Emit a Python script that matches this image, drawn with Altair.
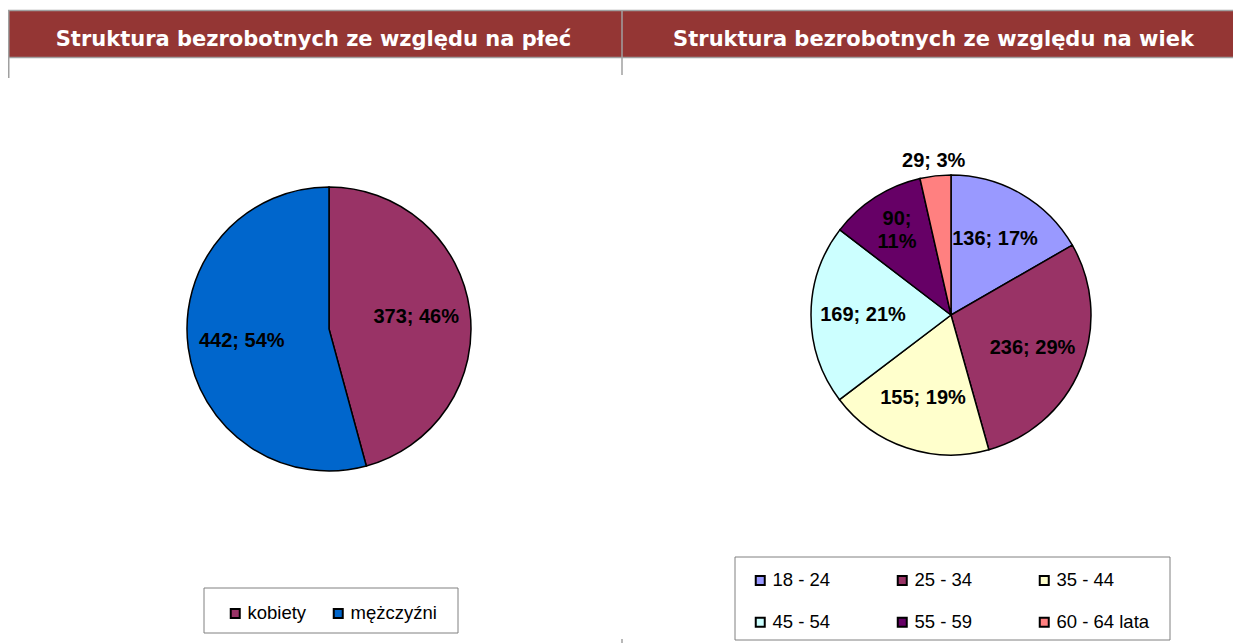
import altair as alt
import pandas as pd

# ---- data ----
titles = ["Struktura bezrobotnych ze względu na płeć",
          "Struktura bezrobotnych ze względu na wiek"]

gender_labels = ["kobiety", "mężczyźni"]
gender_values = [373, 442]
gender_pct = [46, 54]
gender_colors = ["#993366", "#0066CC"]

age_labels = ["18 - 24", "25 - 34", "35 - 44", "45 - 54", "55 - 59", "60 - 64 lata"]
age_values = [136, 236, 155, 169, 90, 29]
age_pct = [17, 29, 19, 21, 11, 3]
age_colors = ["#9999FF", "#993366", "#FFFFCC", "#CCFFFF", "#660066", "#FF8080"]

W, H = 1225, 635
HEADER = "#943634"
GRID = "#A0A0A0"

gdf = pd.DataFrame({
    "cat": gender_labels, "value": gender_values, "pct": gender_pct,
    "idx": list(range(len(gender_labels))),
})
gdf["label"] = [f"{v}; {p}%" for v, p in zip(gender_values, gender_pct)]

tot = sum(age_values)
adf = pd.DataFrame({
    "cat": age_labels, "value": age_values, "pct": age_pct,
    "idx": list(range(len(age_labels))),
})
lab = []
kind = []
for v, p in zip(age_values, age_pct):
    share = v / tot
    if share < 0.05:
        lab.append(f"{v}; {p}%"); kind.append("out")
    elif share < 0.12:
        lab.append([f"{v};", f"{p}%"]); kind.append("wrap")
    else:
        lab.append(f"{v}; {p}%"); kind.append("in")
adf["label"] = lab
adf["kind"] = kind

one = pd.DataFrame({"k": [0]})


def rect(x, x2, y, y2, **kw):
    return alt.Chart(one).mark_rect(**kw).encode(
        x=alt.value(x), x2=alt.value(x2), y=alt.value(y), y2=alt.value(y2))


def rule(x, x2, y, y2, **kw):
    return alt.Chart(one).mark_rule(**kw).encode(
        x=alt.value(x), x2=alt.value(x2), y=alt.value(y), y2=alt.value(y2))


def title(txt, x, y):
    return alt.Chart(pd.DataFrame({"t": [txt]})).mark_text(
        font="DejaVu Sans", fontSize=21, fontWeight="bold", color="white",
        align="center", baseline="middle").encode(
        text="t:N", x=alt.value(x), y=alt.value(y))


decor = alt.layer(
    rect(0, W, 3, 49, fill=HEADER),
    rule(0, W, 2.5, 2.5, stroke=GRID, strokeWidth=1.5),
    rule(0, W, 49.5, 49.5, stroke=GRID, strokeWidth=1.5),
    rule(614, 614, 2, 67, stroke=GRID, strokeWidth=1.5),
    rule(614, 614, 631, 635, stroke=GRID, strokeWidth=1.5),
    rule(0.75, 0.75, 2, 70, stroke=GRID, strokeWidth=1.5),
    rect(196, 450, 580, 625, fill="white", stroke="#808080", strokeWidth=1),
    rect(727, 1162, 549, 632, fill="white", stroke="#808080", strokeWidth=1),
    title(titles[0], 305.5, 32),
    title(titles[1], 925.5, 32),
)

legend_common = dict(
    orient="none", direction="horizontal", title=None, symbolType="square",
    symbolSize=81, symbolStrokeColor="black", symbolStrokeWidth=2,
    labelFont="Liberation Sans", labelFontSize=18.5, labelColor="black",
    labelOffset=3, padding=0, strokeColor="transparent",
)

LCX, LCY, LR = 321, 321, 142
RCX, RCY, RR = 943, 307, 140
LABEL_FONT = dict(font="Liberation Sans", fontSize=20, fontWeight="bold", color="black")

left_arc = alt.Chart(gdf).mark_arc(outerRadius=LR, stroke="black", strokeWidth=1.5).encode(
    theta=alt.Theta("value:Q", stack=True),
    order=alt.Order("idx:Q"),
    color=alt.Color("cat:N", scale=alt.Scale(domain=gender_labels, range=gender_colors),
                    legend=alt.Legend(legendX=218, legendY=596, columns=2,
                                      columnPadding=22, **legend_common)),
    x=alt.value(LCX), y=alt.value(LCY),
)
left_txt = alt.Chart(gdf).mark_text(radius=88, **LABEL_FONT).encode(
    theta=alt.Theta("value:Q", stack=True),
    order=alt.Order("idx:Q"),
    text="label:N",
    x=alt.value(LCX), y=alt.value(LCY),
)
left = alt.layer(left_arc, left_txt)

right_arc = alt.Chart(adf).mark_arc(outerRadius=RR, stroke="black", strokeWidth=1.5).encode(
    theta=alt.Theta("value:Q", stack=True),
    order=alt.Order("idx:Q"),
    color=alt.Color("cat:N", scale=alt.Scale(domain=age_labels, range=age_colors),
                    legend=alt.Legend(legendX=743, legendY=563, columns=3,
                                      columnPadding=62, rowPadding=23, **legend_common)),
    x=alt.value(RCX), y=alt.value(RCY),
)
# mid-angle of each slice, computed before any filtering
txt_base = alt.Chart(adf).transform_window(
    cum="sum(value)", sort=[alt.SortField("idx")], frame=[None, 0]
).transform_calculate(
    mid="datum.cum - datum.value / 2"
).encode(
    theta=alt.Theta("mid:Q", stack=None),
    text="label:N",
    x=alt.value(RCX), y=alt.value(RCY),
)
right_in = txt_base.mark_text(radius=88, **LABEL_FONT).transform_filter(
    alt.datum.kind == "in")
right_wrap = txt_base.mark_text(radius=100, dy=-11.5, lineHeight=23, **LABEL_FONT).transform_filter(
    alt.datum.kind == "wrap")
right_out = txt_base.mark_text(radius=155, **LABEL_FONT).transform_filter(
    alt.datum.kind == "out")
right = alt.layer(right_arc, right_in, right_wrap, right_out)

chart = alt.layer(decor, left, right).resolve_scale(
    theta="independent", color="independent"
).properties(
    width=W, height=H, padding=0,
    autosize=alt.AutoSizeParams(type="none"),
).configure_view(stroke=None)

chart.save("out.html", embed_options={"renderer": "svg", "actions": False})
